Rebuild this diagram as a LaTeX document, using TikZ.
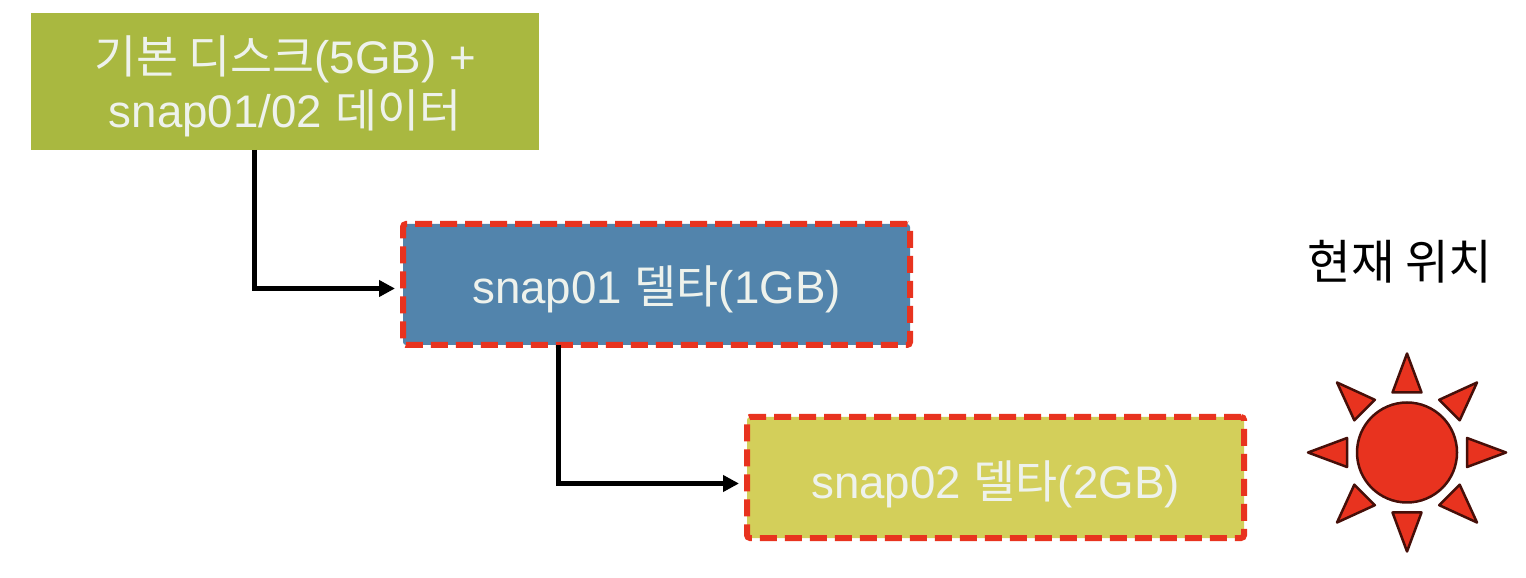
\documentclass[tikz,border=0pt]{standalone}
\usepackage{fontspec}
\setmainfont{Liberation Sans}
\newfontfamily\krfont{Noto Sans CJK KR}
\usepackage{tikz}
\usetikzlibrary{arrows.meta,positioning}

\definecolor{baseGreen}{HTML}{A9B840}
\definecolor{snapBlue}{HTML}{5284AC}
\definecolor{snapYellow}{HTML}{D3CF5A}
\definecolor{sunRed}{HTML}{E8331F}
\definecolor{softWhite}{HTML}{EEF2EC}

\begin{document}
\begin{tikzpicture}[
  outer sep=0pt,
  diskbox/.style={rectangle, align=center, text=softWhite, font=\fontsize{26}{31}\selectfont},
  snapbox/.style={diskbox, draw=sunRed, line width=0.12cm, dash pattern=on 0.34cm off 0.16cm, rounded corners=0.06cm, minimum height=2.42cm},
  arr/.style={-{Triangle[length=0.32cm, width=0.32cm]}, line width=0.1cm, black},
  ray/.style={draw=black!70!sunRed, line width=0.05cm, fill=sunRed, line join=round}
]
\useasboundingbox (0,0) rectangle (30.52,-11.56);

\node[diskbox, fill=baseGreen, anchor=north west, minimum width=10.16cm, minimum height=2.74cm, text height=2.04cm, text depth=0.2cm] (base) at (0.62,-0.26)
  {{\krfont 기본 디스크}(5GB) +\\snap01/02 {\krfont 데이터}};
\node[snapbox, fill=snapBlue, minimum width=10.14cm, text height=0.8cm, text depth=0.05cm, below right=1.48cm and -2.72cm of base] (snap01) {snap01 {\krfont 델타}(1GB)};
\node[snapbox, fill=snapYellow, minimum width=9.94cm, text height=0.9cm, text depth=0.05cm, below right=1.44cm and -3.26cm of snap01] (snap02) {snap02 {\krfont 델타}(2GB)};

% sun marks the current position
\node[circle, minimum size=2cm, ray, right=2.26cm of snap02, yshift=0.5cm] (sun) {};
\foreach \ang in {0,45,...,315}
  \draw[ray, rotate around={\ang:(sun.center)}] ([xshift=1.2cm,yshift=0.29cm]sun.center) -- ([xshift=1.98cm]sun.center) -- ([xshift=1.2cm,yshift=-0.29cm]sun.center) -- cycle;
\node[above=2.26cm of sun, xshift=-0.14cm, font=\fontsize{27}{30}\selectfont\krfont] (here) {현재 위치};

\draw[arr, shorten >=0.16cm] ([xshift=-0.62cm]base.south) |- ([yshift=-0.08cm]snap01.west);
\draw[arr, shorten >=0.16cm] ([xshift=-1.97cm]snap01.south) |- ([yshift=-0.12cm]snap02.west);
\end{tikzpicture}
\end{document}
